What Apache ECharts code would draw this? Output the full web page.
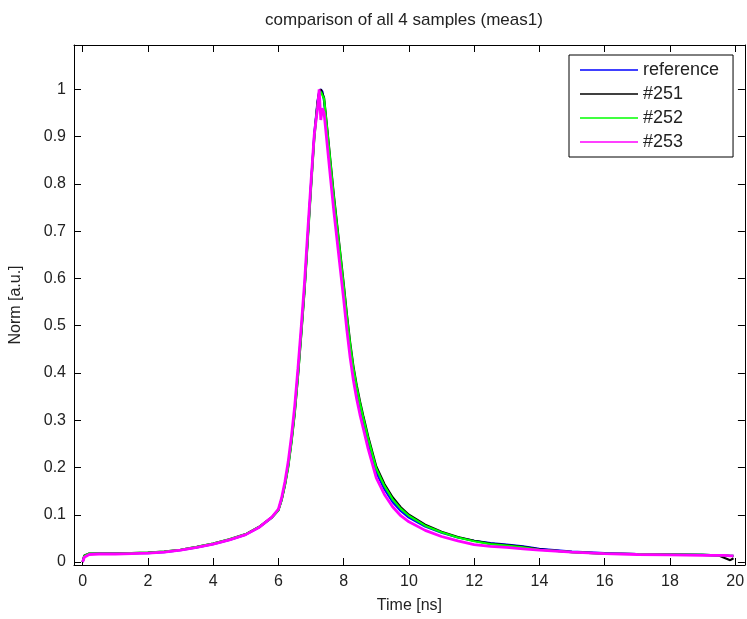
<!DOCTYPE html>
<html>
<head>
<meta charset="utf-8">
<title>comparison of all 4 samples</title>
<script src="https://cdn.jsdelivr.net/npm/echarts@6/dist/echarts.min.js"></script>
<style>
  html, body { margin: 0; padding: 0; background: #fff; }
  #chart { width: 747px; height: 619px; }
</style>
</head>
<body>
<div id="chart"></div>
<script>
// time axis [ns], shared by all samples
const time = [0, 0.05, 0.2, 0.5, 1, 1.5, 2, 2.5, 3, 3.5, 4, 4.5, 5, 5.4, 5.8,
  6.0, 6.1, 6.2, 6.3, 6.4, 6.5, 6.6, 6.7, 6.8, 6.9, 7.0, 7.1, 7.2, 7.25, 7.3, 7.35,
  7.4, 7.5, 7.6, 7.7, 7.8, 7.9, 8.0, 8.1, 8.2, 8.3, 8.4, 8.5, 8.6, 8.75, 9.0, 9.25,
  9.5, 9.75, 10, 10.5, 11, 11.5, 12, 12.5, 13, 13.5, 14, 15, 16, 17, 18, 19, 19.5,
  19.7, 19.85, 19.95]

const reference = [0.000, 0.012, 0.017, 0.018, 0.018, 0.019, 0.019, 0.021, 0.025, 0.031, 0.038, 0.047, 0.058, 0.073, 0.094,
  0.110, 0.133, 0.165, 0.205, 0.258, 0.320, 0.400, 0.488, 0.580, 0.690, 0.800, 0.905, 0.975, 0.995, 1.000, 0.995,
  0.975, 0.905, 0.835, 0.765, 0.703, 0.640, 0.578, 0.512, 0.452, 0.402, 0.362, 0.328, 0.298, 0.253, 0.190, 0.154,
  0.127, 0.108, 0.094, 0.075, 0.062, 0.052, 0.045, 0.040, 0.037, 0.033, 0.028, 0.022, 0.019, 0.017, 0.016, 0.015, 0.014,
  0.014, 0.013, 0.013]

const s251 = [0.000, 0.014, 0.018, 0.018, 0.018, 0.019, 0.020, 0.022, 0.026, 0.032, 0.039, 0.048, 0.059, 0.074, 0.095,
  0.110, 0.132, 0.163, 0.202, 0.254, 0.315, 0.394, 0.482, 0.574, 0.684, 0.795, 0.900, 0.972, 0.993, 1.000, 0.998,
  0.982, 0.915, 0.845, 0.776, 0.714, 0.652, 0.590, 0.524, 0.464, 0.414, 0.374, 0.340, 0.310, 0.266, 0.202, 0.165,
  0.137, 0.116, 0.100, 0.079, 0.064, 0.053, 0.045, 0.039, 0.036, 0.032, 0.027, 0.021, 0.018, 0.017, 0.016, 0.015, 0.014,
  0.008, 0.004, 0.008]

const s252 = [0.000, 0.013, 0.018, 0.018, 0.018, 0.019, 0.020, 0.022, 0.026, 0.032, 0.039, 0.048, 0.059, 0.074, 0.094,
  0.109, 0.131, 0.162, 0.200, 0.252, 0.313, 0.392, 0.480, 0.572, 0.680, 0.790, 0.895, 0.968, 0.988, 0.995, 0.992,
  0.980, 0.912, 0.842, 0.772, 0.710, 0.648, 0.586, 0.520, 0.460, 0.410, 0.370, 0.336, 0.306, 0.262, 0.198, 0.161,
  0.133, 0.113, 0.098, 0.077, 0.063, 0.052, 0.044, 0.038, 0.035, 0.031, 0.026, 0.021, 0.018, 0.017, 0.016, 0.015, 0.014,
  0.014, 0.013, 0.013]

const s253 = [0.000, 0.010, 0.016, 0.017, 0.017, 0.018, 0.019, 0.021, 0.025, 0.031, 0.038, 0.047, 0.058, 0.073, 0.095,
  0.112, 0.136, 0.170, 0.212, 0.266, 0.330, 0.410, 0.498, 0.590, 0.700, 0.805, 0.905, 0.960, 1.000, 0.935, 0.960,
  0.950, 0.880, 0.810, 0.742, 0.680, 0.618, 0.556, 0.490, 0.432, 0.384, 0.345, 0.312, 0.283, 0.240, 0.178, 0.143,
  0.117, 0.098, 0.085, 0.067, 0.054, 0.045, 0.037, 0.033, 0.031, 0.028, 0.025, 0.021, 0.018, 0.016, 0.015, 0.014, 0.014,
  0.014, 0.013, 0.013]

const seriesNames = ['reference', '#251', '#252', '#253']
const seriesColors = ['#0000ff', '#000000', '#00ff00', '#ff00ff']
const seriesValues = [reference, s251, s252, s253]

const xTicks = [0, 2, 4, 6, 8, 10, 12, 14, 16, 18, 20]
const yTicks = [0, 0.1, 0.2, 0.3, 0.4, 0.5, 0.6, 0.7, 0.8, 0.9, 1]

const FONT = "'Liberation Sans', Arial, sans-serif"

const myChart = echarts.init(document.getElementById('chart'), null, { renderer: 'canvas' })

// frame axes: ticks drawn inside on all four sides, MATLAB style
function frameAxis(ticks, extra) {
  return Object.assign({
    type: 'value',
    axisLine: { show: true, onZero: false, lineStyle: { color: '#000', width: 1 } },
    axisTick: { show: true, inside: true, length: 7, customValues: ticks, lineStyle: { color: '#000', width: 1 } },
    splitLine: { show: false },
    axisLabel: { show: false }
  }, extra)
}

const labelStyle = { fontFamily: FONT, fontSize: 16, color: '#222' }

const option = {
  animation: false,
  backgroundColor: '#fff',
  title: {
    text: 'comparison of all 4 samples (meas1)',
    left: 399,
    top: 7,
    textAlign: 'center',
    textStyle: { fontFamily: FONT, fontSize: 17, fontWeight: 'normal', color: '#222' }
  },
  legend: {
    orient: 'vertical',
    left: 569,
    top: 55,
    padding: [6, 14, 6, 11],
    icon: 'rect',
    itemWidth: 58,
    itemHeight: 1.5,
    itemGap: 6,
    backgroundColor: '#fff',
    borderColor: '#000',
    borderWidth: 1,
    borderRadius: 0,
    data: seriesNames,
    textStyle: { fontFamily: FONT, fontSize: 18, color: '#222', lineHeight: 18 }
  },
  grid: { left: 72, right: 1, top: 45, bottom: 46, containLabel: false },
  xAxis: [
    frameAxis(xTicks, {
      min: -0.265, max: 20.3,
      position: 'bottom',
      name: 'Time [ns]', nameLocation: 'middle', nameGap: 33,
      nameTextStyle: labelStyle,
      axisLabel: Object.assign({ show: true, margin: 9, customValues: xTicks, hideOverlap: false }, labelStyle)
    }),
    frameAxis(xTicks, { min: -0.265, max: 20.3, position: 'top' })
  ],
  yAxis: [
    frameAxis(yTicks, {
      min: -0.00625, max: 1.09375,
      position: 'left',
      name: 'Norm [a.u.]', nameLocation: 'middle', nameGap: 50, nameRotate: 90,
      nameTextStyle: labelStyle,
      axisLabel: Object.assign({ show: true, margin: 8, customValues: yTicks, hideOverlap: false }, labelStyle)
    }),
    frameAxis(yTicks, { min: -0.00625, max: 1.09375, position: 'right' })
  ],
  series: seriesValues.map((vals, i) => ({
    name: seriesNames[i],
    type: 'line',
    xAxisIndex: 0,
    yAxisIndex: 0,
    symbol: 'none',
    smooth: false,
    color: seriesColors[i],
    lineStyle: { color: seriesColors[i], width: i === 3 ? 2.8 : 2.2 },
    data: time.map((t, k) => [t, vals[k]])
  }))
}

myChart.setOption(option)
</script>
</body>
</html>
